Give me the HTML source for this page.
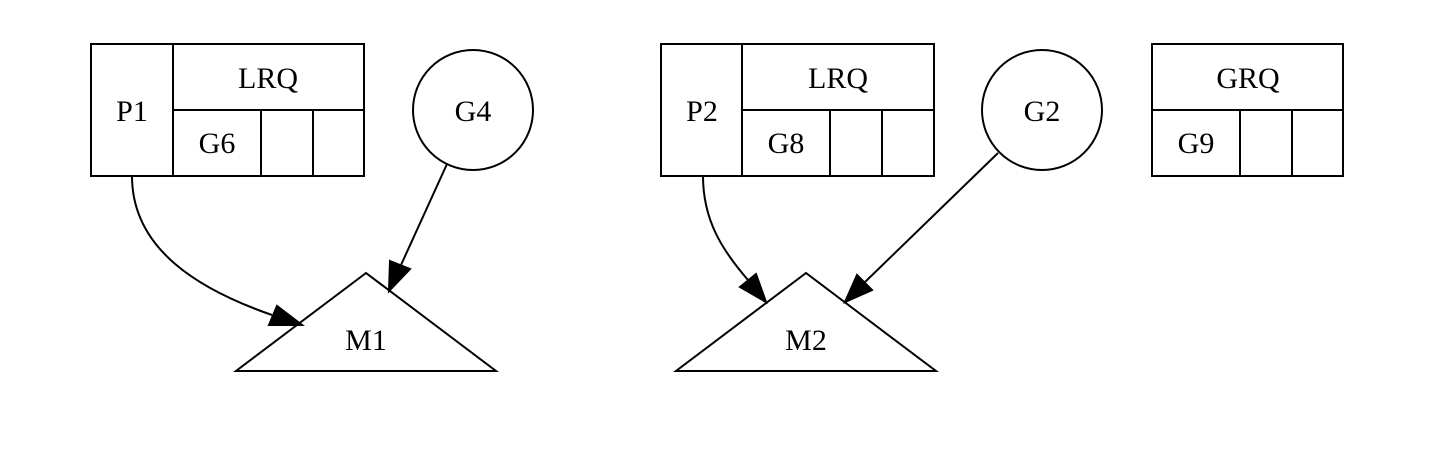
<!DOCTYPE html>
<html><head><meta charset="utf-8"><style>
html,body{margin:0;padding:0;background:#fff;}
svg{display:block;}
text{font-family:"Liberation Serif",serif;font-size:30px;fill:#000;}
</style></head><body>
<svg width="1436" height="460" viewBox="0 0 1436 460">
<g fill="none" stroke="#000" stroke-width="2">
  <g>
    <rect x="91" y="44" width="273" height="132"/>
    <line x1="173" y1="44" x2="173" y2="176"/>
    <line x1="173" y1="110" x2="364" y2="110"/>
    <line x1="261" y1="110" x2="261" y2="176"/>
    <line x1="313" y1="110" x2="313" y2="176"/>
  </g>
  <circle cx="473" cy="110" r="60"/>
  <polygon points="366,273 236,371 496,371"/>
  <g>
    <rect x="661" y="44" width="273" height="132"/>
    <line x1="742" y1="44" x2="742" y2="176"/>
    <line x1="742" y1="110" x2="934" y2="110"/>
    <line x1="830" y1="110" x2="830" y2="176"/>
    <line x1="882" y1="110" x2="882" y2="176"/>
  </g>
  <circle cx="1042" cy="110" r="60"/>
  <polygon points="806,273 676,371 936,371"/>
  <g>
    <rect x="1152" y="44" width="191" height="132"/>
    <line x1="1152" y1="110" x2="1343" y2="110"/>
    <line x1="1240" y1="110" x2="1240" y2="176"/>
    <line x1="1292" y1="110" x2="1292" y2="176"/>
  </g>
  <path d="M132,176 C132,250 200,290 272,315"/>
  <path d="M447,164 L401,265"/>
  <path d="M703,176 C703,220 722,250 748,280"/>
  <path d="M998,153 L865,282"/>
</g>
<g fill="#000" stroke="#000" stroke-width="2">
  <polygon points="269,325 277,306 302,325"/>
  <polygon points="390,261 410,269 389,291"/>
  <polygon points="740,287 756,274 766,302"/>
  <polygon points="857,275 872,290 845,302"/>
</g>
<g text-anchor="middle">
  <text x="132" y="121">P1</text>
  <text x="268" y="88">LRQ</text>
  <text x="217" y="153">G6</text>
  <text x="473" y="121">G4</text>
  <text x="366" y="350">M1</text>
  <text x="702" y="121">P2</text>
  <text x="838" y="88">LRQ</text>
  <text x="786" y="153">G8</text>
  <text x="1042" y="121">G2</text>
  <text x="806" y="350">M2</text>
  <text x="1248" y="88">GRQ</text>
  <text x="1196" y="153">G9</text>
</g>
</svg>
</body></html>
